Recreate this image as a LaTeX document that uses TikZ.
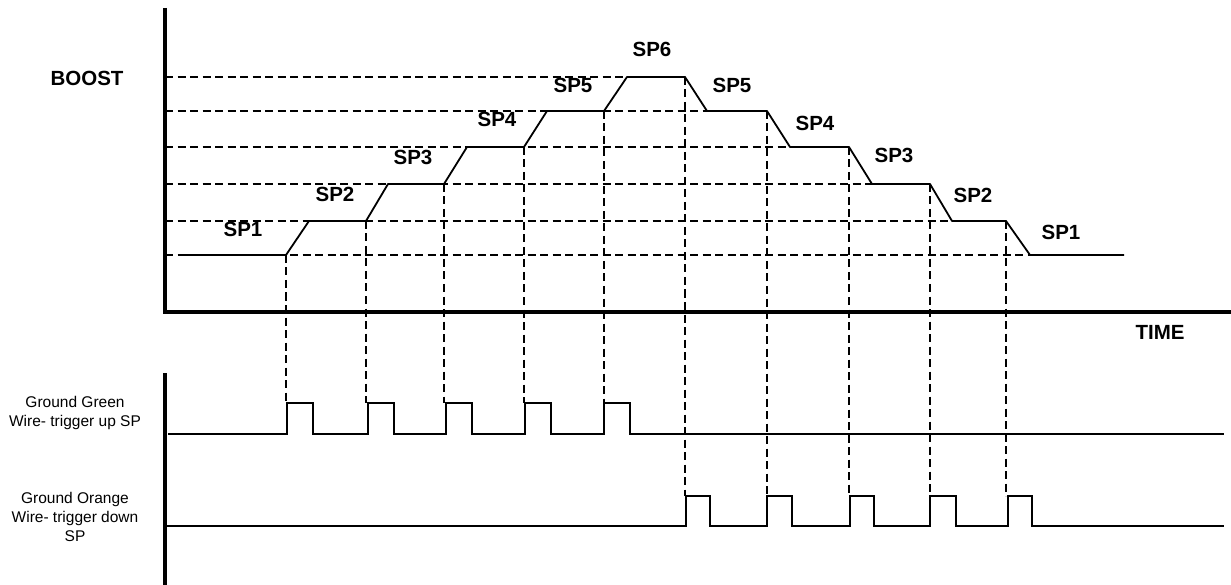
\documentclass[tikz,border=0pt]{standalone}
\usepackage{fontspec}
\setmainfont{Liberation Sans}
\begin{document}
\begin{tikzpicture}[x=1pt,y=-1pt,
  axis/.style={line width=3.5pt},
  curve/.style={line width=1.8pt},
  guide/.style={line width=1.4pt,dash pattern=on 8pt off 4.5pt},
  sig/.style={line width=1.8pt},
  big/.style={font=\fontsize{20.5}{24}\selectfont\bfseries,inner sep=0pt},
  small/.style={font=\fontsize{15.5}{19}\selectfont,align=center,inner sep=0pt}]
\useasboundingbox (0,0) rectangle (1231,585);
% axes
\coordinate (ytop) at (165,8);
\coordinate (orig) at (165,312);
\coordinate (xend) at (1231,312);
\draw[axis] (ytop) -- (orig) -- (xend);
\coordinate (btop) at (165,373);
\coordinate (bbot) at (165,585);
\draw[axis] (btop) -- (bbot);
% horizontal guide lines
\draw[guide] (165,255) -- (1030,255);
\draw[guide] (165,221) -- (952,221);
\draw[guide] (165,184) -- (872,184);
\draw[guide] (165,147) -- (790,147);
\draw[guide] (165,111) -- (707,111);
\draw[guide] (165,77) -- (627,77);
% vertical guide lines
\foreach \x/\y in {286/255,366/221,444/184,524/147,604/111}
  \draw[guide] (\x,\y) -- (\x,403);
\foreach \x/\y in {685/77,767/111,849/147,930/184,1006/221}
  \draw[guide] (\x,\y) -- (\x,496);
% boost curve
\draw[curve,line join=round] (183,255) -- (286,255) -- (309,221) -- (366,221) -- (388,184) -- (444,184) -- (467,147) -- (524,147) -- (547,111) -- (604,111) -- (627,77) -- (685,77) -- (707,111) -- (767,111) -- (790,147) -- (849,147) -- (872,184) -- (930,184) -- (952,221) -- (1006,221) -- (1030,255) -- (1124,255);
% signals
\draw[sig] (168,434) -- (287,434) -- (287,403) -- (313,403) -- (313,434)
  -- (368,434) -- (368,403) -- (394,403) -- (394,434)
  -- (446,434) -- (446,403) -- (472,403) -- (472,434)
  -- (525,434) -- (525,403) -- (551,403) -- (551,434)
  -- (604,434) -- (604,403) -- (630,403) -- (630,434) -- (1224,434);
\draw[sig] (165,526) -- (686,526) -- (686,496) -- (710,496) -- (710,526)
  -- (767,526) -- (767,496) -- (792,496) -- (792,526)
  -- (850,526) -- (850,496) -- (874,496) -- (874,526)
  -- (930,526) -- (930,496) -- (956,496) -- (956,526)
  -- (1008,526) -- (1008,496) -- (1032,496) -- (1032,526) -- (1224,526);
% labels
\node[big] (boost) at (87,78) {BOOST};
\node[big] (time) at (1160,332) {TIME};
\node[big] (u1) at (243,229) {SP1};
\node[big] (u2) at (335,194) {SP2};
\node[big] (u3) at (413,157) {SP3};
\node[big] (u4) at (497,119) {SP4};
\node[big] (u5) at (573,85) {SP5};
\node[big] (u6) at (652,49) {SP6};
\node[big] (d5) at (732,85) {SP5};
\node[big] (d4) at (815,123) {SP4};
\node[big] (d3) at (894,155) {SP3};
\node[big] (d2) at (973,195) {SP2};
\node[big] (d1) at (1061,232) {SP1};
\node[small] (green) at (75,413) {Ground Green\\Wire- trigger up SP};
\node[small] (orange) at (75,517) {Ground Orange\\Wire- trigger down\\SP};
\end{tikzpicture}
\end{document}
